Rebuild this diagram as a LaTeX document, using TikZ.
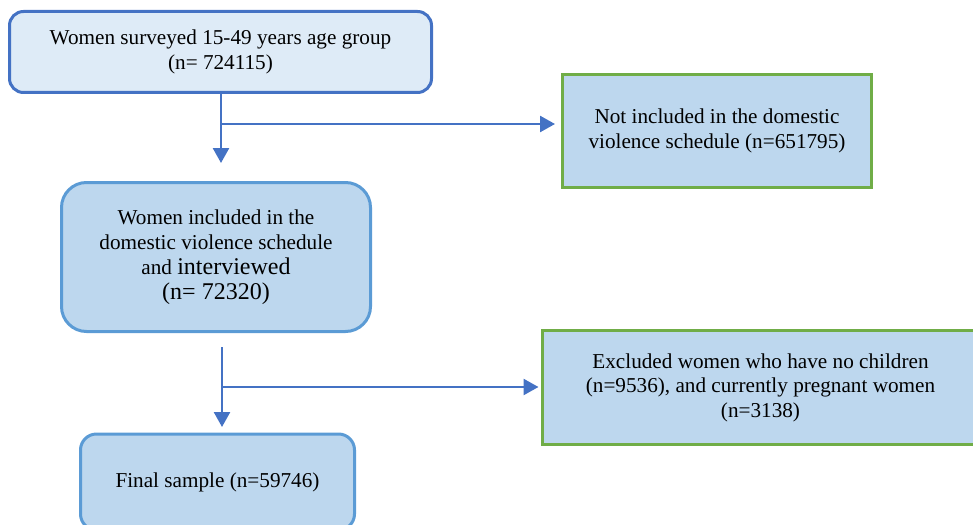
\documentclass[tikz,border=0pt]{standalone}
\usepackage{fontspec}
\setmainfont{Liberation Serif}
\usetikzlibrary{arrows.meta}
\definecolor{darkb}{HTML}{4472C4}
\definecolor{midb}{HTML}{5B9BD5}
\definecolor{lightf}{HTML}{DEEBF7}
\definecolor{boxf}{HTML}{BDD7EE}
\definecolor{grn}{HTML}{70AD47}
\begin{document}
\begin{tikzpicture}[x=1pt,y=-1pt,
  txt/.style={font=\fontsize{21.2}{24.6}\selectfont, align=center, text=black, inner sep=0pt},
  roundbox/.style={draw=midb, fill=boxf, line width=3pt, rounded corners=16pt, minimum width=#1, txt},
  greenbox/.style={draw=grn, fill=boxf, line width=3pt, minimum width=#1, txt},
  arr/.style={draw=darkb, line width=2.5pt, -{Triangle[width=16pt,length=15pt]}},
  ln/.style={draw=darkb, line width=2.5pt}]
\useasboundingbox (0,0) rectangle (973,524);
\node[roundbox=422pt, draw=darkb, fill=lightf, minimum height=81pt, rounded corners=14pt] (b1) at (220.5,52)
  {Women surveyed 15-49 years age group\\(n= 724115)};
\node[greenbox=309pt, minimum height=113pt] (b2) at (717,131)
  {Not included in the domestic\\violence schedule (n=651795)};
\node[roundbox=309pt, minimum height=149pt, rounded corners=25pt] (b3) at (216,257)
  {Women included in the\\domestic violence schedule\\[1pt]and {\fontsize{24}{25}\selectfont interviewed}\\{\fontsize{24}{28}\selectfont (n= 72320)}};
\node[greenbox=436pt, minimum height=114pt] (b4) at (760.5,387.5)
  {Excluded women who have no children\\(n=9536), and currently pregnant women\\(n=3138)};
\node[roundbox=274pt, minimum height=96pt, rounded corners=16pt] (b5) at (217.5,482)
  {Final sample (n=59746)};
% connectors
\coordinate (j1) at (221,124);
\coordinate (e1) at (221,163);
\coordinate (s2) at (222,347);
\coordinate (j2) at (222,387);
\coordinate (e2) at (222,427);
\draw[ln] (b1.south -| j1) -- (j1);
\draw[arr] (j1) -- (e1);
\draw[arr, shorten >=6pt] (j1) -- (b2.west |- j1);
\draw[ln] (s2) -- (j2);
\draw[arr] (j2) -- (e2);
\draw[arr, shorten >=2.5pt] (j2) -- (b4.west |- j2);
\end{tikzpicture}
\end{document}
